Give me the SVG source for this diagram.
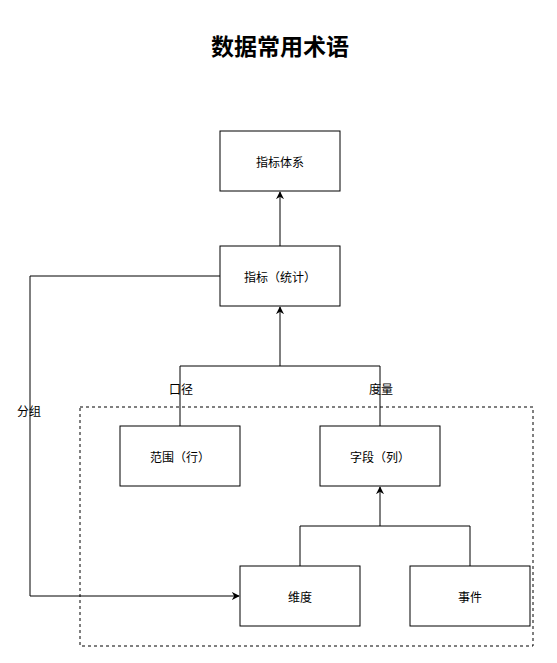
<svg xmlns="http://www.w3.org/2000/svg" width="557" height="663" viewBox="0 0 557 663">
<style>
.box{fill:#fff;stroke:#000;stroke-width:1}
.t{font-family:"Noto Sans CJK SC","Liberation Sans",sans-serif;font-size:12px;fill:#000;text-anchor:middle;dominant-baseline:central}
.ln{fill:none;stroke:#000;stroke-width:1}
</style>
<defs>
<marker id="ar" viewBox="0 0 10 10" refX="9" refY="5" markerWidth="8" markerHeight="8" markerUnits="userSpaceOnUse" orient="auto">
<path d="M0,0 L10,5 L0,10 L3,5 Z" fill="#000"/>
</marker>
</defs>
<rect width="557" height="663" fill="#fff"/>
<text x="280" y="45" style="font-family:'Noto Sans CJK SC','Liberation Sans',sans-serif;font-size:23px;font-weight:bold;text-anchor:middle;dominant-baseline:central">数据常用术语</text>
<g id="group-box">
<rect x="80" y="407" width="453" height="239" fill="none" stroke="#000" stroke-width="1" stroke-dasharray="3,3"/>
</g>
<g id="connectors">
<path class="ln" d="M280,246 V192" marker-end="url(#ar)"/>
<path class="ln" d="M180,426 V366 H380 V426"/>
<path class="ln" d="M280,366 V307" marker-end="url(#ar)"/>
<path class="ln" d="M300,566 V526 H470 V566"/>
<path class="ln" d="M380,526 V487" marker-end="url(#ar)"/>
<path class="ln" d="M220,276 H30 V596 H239" marker-end="url(#ar)"/>
<text class="t" x="181" y="388">口径</text>
<text class="t" x="381" y="388">度量</text>
<text class="t" x="29" y="410">分组</text>
</g>
<g id="node-zhibiaotixi"><rect class="box" x="220" y="131" width="120" height="60"/><text class="t" x="280" y="161">指标体系</text></g>
<g id="node-zhibiao"><rect class="box" x="220" y="246" width="120" height="60"/><text class="t" x="280" y="276">指标（统计）</text></g>
<g id="node-fanwei"><rect class="box" x="120" y="426" width="120" height="60"/><text class="t" x="180" y="456">范围（行）</text></g>
<g id="node-ziduan"><rect class="box" x="320" y="426" width="120" height="60"/><text class="t" x="380" y="456">字段（列）</text></g>
<g id="node-weidu"><rect class="box" x="240" y="566" width="120" height="60"/><text class="t" x="300" y="596">维度</text></g>
<g id="node-shijian"><rect class="box" x="410" y="566" width="120" height="60"/><text class="t" x="470" y="596">事件</text></g>
</svg>
